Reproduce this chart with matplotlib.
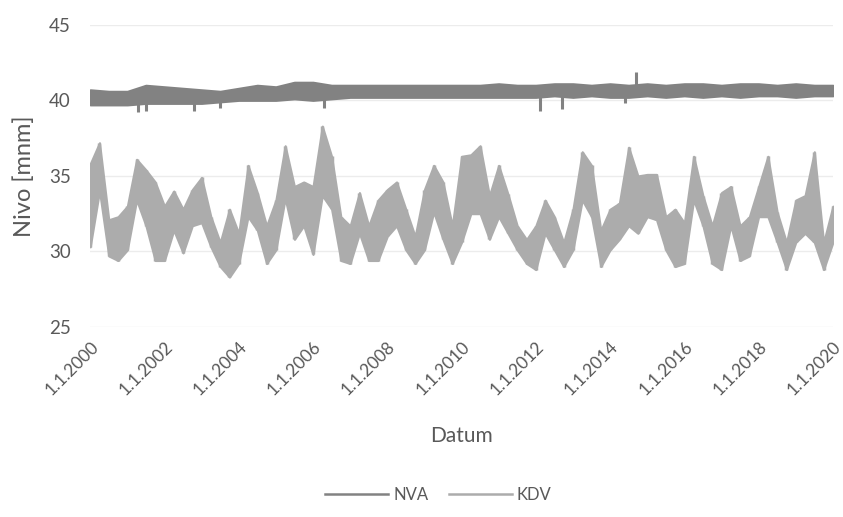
import numpy as np
import matplotlib.pyplot as plt

plt.rcParams['font.family'] = ['Lato', 'DejaVu Sans']

# -----------------------------------------------------------------
# DATA - upper / lower edge of the daily band
# -----------------------------------------------------------------
# KDV, sampled every quarter year 2000.0 ... 2020.0
kdv_t = np.arange(81) * 0.25 + 2000.0
kdv_hi = [35.8, 37.2, 32.1, 32.3, 33.0, 36.1, 35.4, 34.6, 33.0, 34.0,
          32.8, 34.1, 34.9, 32.3, 30.6, 32.8, 31.2, 35.7, 33.9, 31.7,
          33.4, 37.0, 34.3, 34.6, 34.3, 38.3, 36.3, 32.3, 31.7, 33.9,
          31.7, 33.4, 34.1, 34.6, 32.8, 31.0, 34.1, 35.7, 34.6, 31.7,
          36.3, 36.4, 37.0, 33.7, 35.7, 33.8, 31.7, 30.8, 31.7, 33.4,
          32.3, 30.6, 32.8, 36.6, 35.7, 31.4, 32.8, 33.2, 36.9, 35.0,
          35.1, 35.1, 32.3, 32.8, 31.9, 36.3, 33.7, 31.7, 33.9, 34.3,
          31.7, 32.3, 34.3, 36.3, 32.6, 30.6, 33.4, 33.7, 36.6, 30.6,
          33.0]
kdv_lo = [30.3, 34.0, 29.7, 29.4, 30.1, 33.4, 31.7, 29.4, 29.4, 31.4,
          29.9, 31.7, 31.9, 30.3, 29.0, 28.3, 29.2, 32.3, 31.4, 29.2,
          30.1, 33.5, 30.8, 31.7, 29.8, 33.7, 32.8, 29.4, 29.2, 31.2,
          29.4, 29.4, 31.0, 31.7, 30.1, 29.2, 30.1, 32.6, 30.8, 29.2,
          30.6, 32.5, 32.5, 30.8, 32.3, 31.2, 30.1, 29.2, 28.8, 31.2,
          30.1, 29.0, 30.1, 33.4, 32.3, 29.0, 30.1, 30.8, 31.7, 31.2,
          32.3, 32.1, 30.1, 29.0, 29.2, 33.4, 31.7, 29.2, 28.8, 31.7,
          29.4, 29.7, 32.3, 32.3, 30.6, 28.8, 30.6, 31.2, 30.6, 28.8,
          30.6]

# NVA, sampled every half year 2000.0 ... 2020.0
nva_t = np.arange(41) * 0.5 + 2000.0
nva_hi = [40.7, 40.6, 40.6, 41.0, 40.9, 40.8, 40.7, 40.6, 40.8, 41.0,
          40.9, 41.2, 41.2, 41.0, 41.0, 41.0, 41.0, 41.0, 41.0, 41.0,
          41.0, 41.0, 41.1, 41.0, 41.0, 41.1, 41.1, 41.0, 41.1, 41.0,
          41.1, 41.0, 41.1, 41.1, 41.0, 41.1, 41.1, 41.0, 41.1, 41.0,
          41.0]
nva_lo = [39.7, 39.7, 39.7, 39.8, 39.8, 39.8, 39.8, 39.9, 40.0, 40.0,
          40.0, 40.1, 40.0, 40.1, 40.2, 40.2, 40.2, 40.2, 40.2, 40.2,
          40.2, 40.2, 40.2, 40.2, 40.2, 40.3, 40.2, 40.3, 40.2, 40.2,
          40.3, 40.2, 40.3, 40.2, 40.3, 40.2, 40.3, 40.3, 40.2, 40.3,
          40.3]
# single-day spikes of NVA
nva_spike_t = [2001.3, 2001.5, 2002.8, 2003.5, 2006.3, 2012.1, 2012.7, 2014.4, 2014.7]
nva_spike_v = [39.2, 39.3, 39.3, 39.5, 39.5, 39.3, 39.4, 39.8, 41.9]

x_ticks = [2000, 2002, 2004, 2006, 2008, 2010, 2012, 2014, 2016, 2018, 2020]
x_labels = ['1.1.2000', '1.1.2002', '1.1.2004', '1.1.2006', '1.1.2008', '1.1.2010',
            '1.1.2012', '1.1.2014', '1.1.2016', '1.1.2018', '1.1.2020']
y_ticks = [25, 30, 35, 40, 45]

c_nva = '#828282'
c_kdv = '#acacac'
c_txt = '#595959'

fig = plt.figure(figsize=(8.43, 5.17), dpi=100)
ax = fig.add_axes([0.107, 0.3675, 0.881, 0.5845])

# KDV - band of daily values, with the vertical day-to-day strokes
ax.fill_between(kdv_t, kdv_lo, kdv_hi, color=c_kdv, lw=1.5, edgecolor=c_kdv)
ax.vlines(kdv_t, kdv_lo, kdv_hi, color=c_kdv, lw=2.5)

# NVA
ax.fill_between(nva_t, nva_lo, nva_hi, color=c_nva, lw=1.5, edgecolor=c_nva)
ax.vlines(nva_t, nva_lo, nva_hi, color=c_nva, lw=2.5)
ax.vlines(nva_spike_t, 40.5, nva_spike_v, color=c_nva, lw=2.2)

# legend handles
ax.plot([], [], color=c_nva, lw=1.8, label='NVA')
ax.plot([], [], color=c_kdv, lw=1.8, label='KDV')

ax.set_xlim(2000, 2020)
ax.set_ylim(25, 45)
ax.set_yticks(y_ticks)
ax.set_xticks(x_ticks)
ax.set_xticklabels(x_labels, rotation=45, ha='right', rotation_mode='anchor')
ax.tick_params(length=0, labelsize=12.5, labelcolor=c_txt)
ax.tick_params(axis='y', pad=14, labelsize=13.5)
ax.tick_params(axis='x', pad=8)
ax.grid(axis='y', color='#ececec', lw=1)
ax.set_axisbelow(True)
for s in ax.spines.values():
    s.set_visible(False)

ax.set_ylabel('Nivo [mnm]', fontsize=17, color=c_txt, labelpad=10)
ax.set_xlabel('Datum', fontsize=15, color=c_txt, labelpad=20)

fig.legend(loc='center', bbox_to_anchor=(0.52, 0.042), ncol=2,
           frameon=False, fontsize=12, labelcolor=c_txt, handlelength=3.8,
           handletextpad=0.3, columnspacing=1.2)

fig.savefig('out.png', dpi=100)
